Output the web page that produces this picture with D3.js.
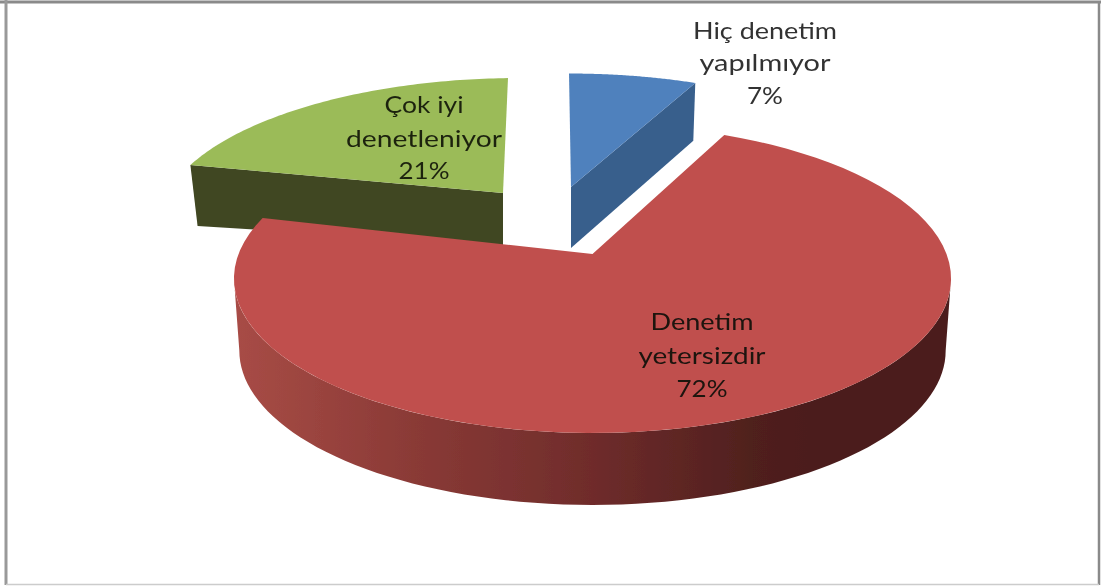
<!DOCTYPE html>
<html lang="tr"><head><meta charset="utf-8">
<script src="https://cdnjs.cloudflare.com/ajax/libs/d3/7.8.5/d3.min.js"></script>
<style>html,body{margin:0;background:#fff}svg{display:block}text{font-family:Lato,"Open Sans",sans-serif;font-size:22.5px;text-anchor:middle}</style>
</head><body><svg id="c" width="1101" height="588"></svg>
<script>
const categories = ["Hiç denetim yapılmıyor", "Denetim yetersizdir", "Çok iyi denetleniyor"];
const values = [7, 72, 21];
const labelLines = [["Hiç denetim", "yapılmıyor", "7%"], ["Denetim", "yetersizdir", "72%"], ["Çok iyi", "denetleniyor", "21%"]];
const topColors = ["#4f81bd", "#c0504d", "#9bbb59"];
const wallColors = ["#375e8c", "url(#redWall)", "#404723"];

// Layout only: perspective of the pie plane and the explosion offset of each slice
const R = 354, H = 150.5, P = 0.159;
const views = [
  {ax:571, ay:187, sx:.957, sy:.874, skew:.0175, tilt:0, depth:61, bx:.984, by:1.03},
  {ax:592.5, ay:254, sx:1, sy:1, skew:0, tilt:0, depth:72, bx:.985, by:1},
  {ax:503, ay:193, sx:.952, sy:.885, skew:-.0435, tilt:-.0125, depth:52, bx:.977, by:.68}
];
const labelLayout = [
  {x:765, y:[39,71,104], w:[144,131,36], fill:"#333"},
  {x:702, y:[330,364,397], w:[103,127,51], fill:"#1c1210"},
  {x:424, y:[113,147,179], w:[79,156,51], fill:"#1e2410"}
];

const svg = d3.select("#c");
const defs = svg.append("defs");
const grad = defs.append("linearGradient").attr("id","redWall")
  .attr("gradientUnits","userSpaceOnUse").attr("x1",234).attr("x2",951).attr("y1",0).attr("y2",0);
[[0,"#a84c46"],[.25,"#8a3a36"],[.5,"#6f2c2b"],[.72,"#50201e"],[.8,"#4c1d1c"],[1,"#4c1d1c"]]
  .forEach(([o,c])=>grad.append("stop").attr("offset",o).attr("stop-color",c));
defs.append("filter").attr("id","soft").attr("x",0).attr("y",0).attr("width",1).attr("height",1)
  .attr("filterUnits","objectBoundingBox")
  .append("feGaussianBlur").attr("stdDeviation",0.5);

// frame
const frame = [[0,2,1101,2,"#8a8a8a",3],[6,0,6,585,"#999",3],[1099,2,1099,585,"#8a8a8a",2.5],[6,584.5,1099,584.5,"#ccc",1.5]];
svg.selectAll("line.f").data(frame).join("line").attr("class","f")
  .attr("x1",d=>d[0]).attr("y1",d=>d[1]).attr("x2",d=>d[2]).attr("y2",d=>d[3])
  .attr("stroke",d=>d[4]).attr("stroke-width",d=>d[5]);

const arcs = d3.pie().sort(null).startAngle(0).endAngle(2*Math.PI)(values);

function rel(a, v) {
  const w = 1 + P*Math.cos(a);
  const x0 = R*Math.sin(a)/w*v.sx, y0 = -H*Math.cos(a)/w*v.sy;
  return [x0 + v.skew*y0, y0 + v.tilt*x0];
}
const topPt = (a,v)=>{const [x,y]=rel(a,v);return [v.ax+x, v.ay+y];};
const botPt = (a,v)=>{const [x,y]=rel(a,v);return [v.ax+x*v.bx, v.ay+v.depth+y*v.by];};
const line = d3.line().curve(d3.curveLinear);
const samples = (a0,a1)=>d3.range(0,81).map(i=>a0+(a1-a0)*i/80);

const chart = svg.append("g").attr("filter","url(#soft)");
// back-to-front: green, blue, red
[2,0,1].forEach(i=>{
  const d = arcs[i], v = views[i];
  const g = chart.append("g").attr("class","slice");
  const s = samples(d.startAngle, d.endAngle);
  if (i===1) {
    // outer wall: only the front part, between the two silhouette angles of the ellipse
    const a1 = Math.acos(-P), a2 = 2*Math.PI - a1;
    const f = samples(a1, a2);
    g.append("path").attr("d", line([...f.map(a=>topPt(a,v)), ...f.slice().reverse().map(a=>botPt(a,v))])+"Z").attr("fill",wallColors[i]);
  } else {
    const edge = i===0 ? d.endAngle : d.startAngle;
    g.append("path").attr("d", line([[v.ax,v.ay], topPt(edge,v), botPt(edge,v), [v.ax,v.ay+v.depth]])+"Z").attr("fill",wallColors[i]);
  }
  g.append("path").attr("d", line([[v.ax,v.ay], ...s.map(a=>topPt(a,v))])+"Z").attr("fill",topColors[i]);
});

labelLines.forEach((lines,i)=>{
  const L = labelLayout[i];
  lines.forEach((t,j)=>{
    chart.append("text").attr("x",L.x).attr("y",L.y[j]).attr("fill",L.fill)
      .attr("textLength",L.w[j]).attr("lengthAdjust","spacingAndGlyphs").text(t);
  });
});
</script></body></html>
